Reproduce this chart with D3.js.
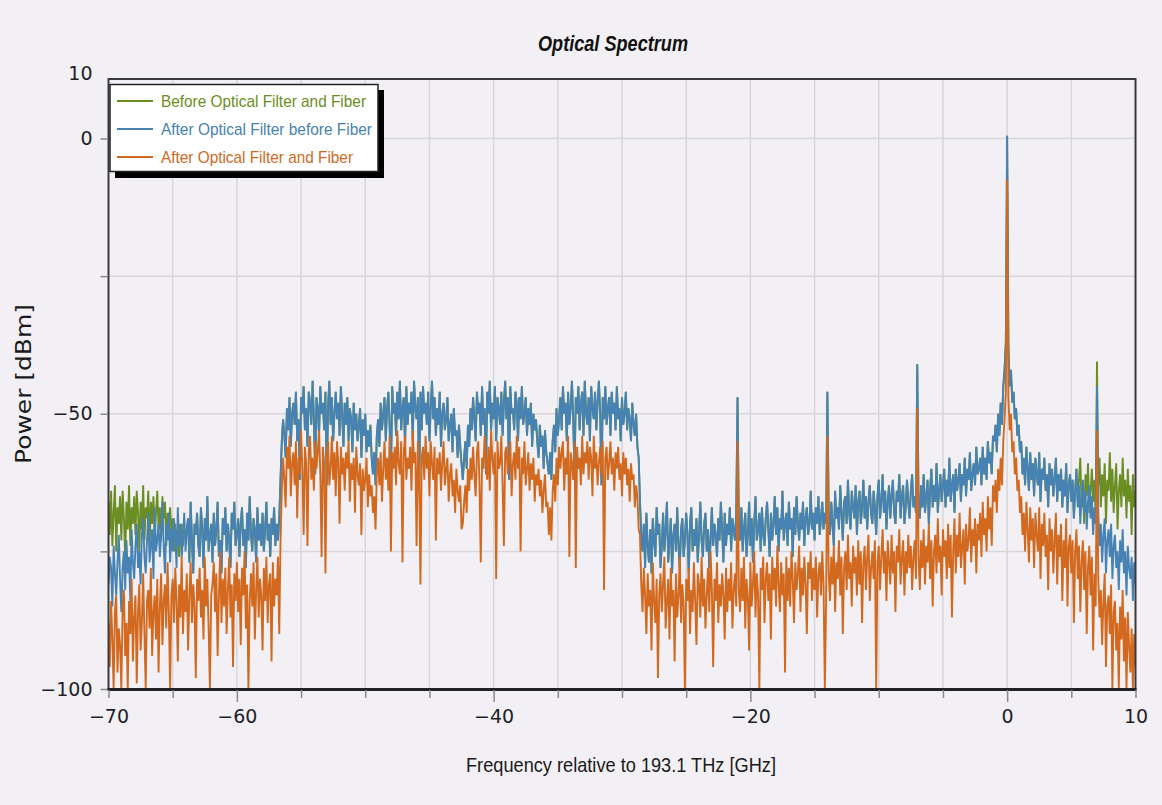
<!DOCTYPE html>
<html><head><meta charset="utf-8">
<script src="https://cdn.jsdelivr.net/npm/d3@7"></script>
<style>html,body{margin:0;padding:0;background:#f2f0f4;overflow:hidden}</style>
</head><body><svg id="c" width="1162" height="805"></svg>
<script>
// ---------------- DATA ----------------
const chartTitle = "Optical Spectrum";
const xTitle = "Frequency relative to 193.1 THz [GHz]";
const yTitle = "Power [dBm]";
const seriesNames = ["Before Optical Filter and Fiber", "After Optical Filter before Fiber", "After Optical Filter and Fiber"];
const freqStart = -70, freqStep = 0.1;           // GHz, sample spacing of the spectra
const xTickValues = [-70,-65,-60,-55,-50,-45,-40,-35,-30,-25,-20,-15,-10,-5,0,5,10];
const xTickLabels = [-70,-60,-40,-20,0,10];
const yTickValues = [-100,-75,-50,-25,0];
const yTickLabels = [-100,-50,0,10];

// After Optical Filter before Fiber (blue), dBm
const blueLeft = [
-81,-76,-78,-85,-74,-79,-83,-77,-72,-80,-86,-78,-75,-82,-73,-79,-76,-84,-71,-77,
-80,-74,-70,-78,-75,-81,-72,-69,-76,-79,-73,-68,-77,-74,-71,-80,-67,-75,-73,-70,
-76,-72,-66,-74,-79,-70,-73,-68,-77,-71,-75,-69,-72,-78,-67,-74,-70,-76,-73,-68,
-75,-71,-69,-77,-66,-73,-79,-70,-72,-68,-74,-76,-67,-71,-78,-69,-73,-65,-75,-72,
-70,-77,-68,-74,-71,-66,-76,-73,-79,-69,-72,-67,-75,-70,-73,-78,-68,-71,-66,-74,
-72,-69,-76,-70,-67,-74,-71,-78,-68,-73,-65,-72,-75,-69,-71,-77,-67,-73,-70,-74,
-68,-75,-71,-66,-73,-70,-76,-69,-72,-67,-74,-70,-73,-69];
const blueBand = [
-62,-55,-51,-54,-58,-49,-53,-47,-56,-50,-48,-52,-46,-55,-51,-62,-47,-50,-45,-53,
-49,-56,-46,-48,-52,-44,-51,-61,-47,-49,-54,-45,-50,-48,-53,-46,-63,-49,-44,-52,
-47,-55,-50,-46,-51,-48,-54,-45,-50,-56,-48,-52,-47,-55,-49,-51,-57,-48,-53,-50,
-55,-52,-49,-58,-51,-54,-50,-57,-53,-56,-52,-58,
-61,-57,-63,-54,-51,-56,-48,-53,-50,-47,-55,-49,-46,-52,-62,-45,-50,-48,-54,-46,
-51,-44,-53,-49,-47,-56,-45,-52,-48,-50,-46,-55,-44,-49,-51,-47,-64,-46,-53,-45,
-50,-48,-52,-46,-55,-49,-44,-51,-47,-54,-49,-52,-46,-56,-50,-48,-53,-51,-47,-55,
-52,-50,-57,-49,-54,-53,-58,-52,-56,-59,
-62,-58,-55,-60,-52,-56,-49,-53,-47,-51,-55,-46,-50,-48,-54,-45,-52,-49,-61,-46,
-50,-44,-53,-48,-51,-45,-55,-47,-49,-52,-46,-54,-48,-44,-51,-47,-62,-45,-50,-49,
-53,-46,-48,-55,-47,-51,-45,-52,-50,-47,-54,-49,-52,-48,-56,-50,-53,-51,-55,-58,
-52,-56,-54,-60,-53,-57,-59,-61,
-57,-62,-55,-52,-57,-49,-54,-51,-47,-53,-45,-50,-48,-55,-46,-52,-49,-44,-51,-61,
-47,-50,-45,-53,-48,-46,-54,-44,-50,-52,-47,-55,-45,-49,-51,-46,-53,-48,-44,-50,
-63,-47,-51,-45,-52,-49,-47,-54,-46,-50,-48,-53,-45,-51,-49,-55,-47,-52,-50,-46,
-53,-49,-51,-55,-48,-52,-54,-50,-56,-58];
const blueRight = [
-66,-72,-75,-70,-78,-68,-74,-77,-71,-79,-69,-73,-76,-67,-72,-70,-78,-74,-68,-75,
-71,-66,-77,-73,-69,-79,-72,-70,-75,-67,-74,-78,-71,-69,-76,-73,-68,-72,-79,-70,
-67,-75,-71,-74,-69,-77,-72,-66,-73,-76,-70,-68,-75,-71,-78,-73,-67,-74,-70,-72,
-76,-69,-73,-66,-71,-77,-68,-74,-70,-72,-67,-75,-69,-71,-73,-68,
-47,
-70,-73,-67,-75,-71,-68,-76,-72,-66,-74,-69,-77,-70,-65,-73,-71,-68,-75,-67,-72,
-74,-69,-66,-71,-76,-68,-73,-70,-65,-72,-67,-75,-69,-71,-64,-73,-70,-68,-74,-66,
-71,-69,-76,-67,-72,-65,-70,-73,-68,-71,-66,-74,-69,-67,-72,-70,-64,-71,-68,-73,
-67,-70,-65,-72,-69,-66,-71,-68,-70,
-46,
-68,-72,-66,-70,-74,-64,-69,-67,-71,-63,-68,-73,-66,-65,-70,-62,-68,-71,-64,-67,
-69,-63,-72,-66,-64,-70,-67,-62,-69,-65,-71,-66,-63,-68,-70,-64,-67,-72,-65,-62,
-69,-66,-61,-68,-64,-71,-66,-63,-69,-65,-62,-68,-70,-64,-66,-61,-69,-65,-63,-70,
-67,-62,-66,-69,-64,-61,-67,-65,-68,
-41,
-66,-69,-63,-67,-61,-68,-65,-62,-70,-64,-60,-67,-63,-66,-59,-68,-64,-61,-66,-63,
-60,-67,-62,-65,-58,-66,-63,-61,-68,-60,-64,-62,-59,-66,-61,-63,-58,-65,-60,-62,
-57,-64,-61,-59,-63,-56,-61,-60,-58,-63,-56,-61,-58,-62,-55,-59,-57,-61,-54,
-55,-52,-57,-50,-54,-48,-52,-45,-42,-37,0.5,-38,-45,-42,-48,-46,-51,-49,-54,-52,-57,
-55,-61,-58,-63,-56,-60,-64,-57,-62,-59,-65,-58,-61,-63,-57,-66,-60,-62,-58,-64,
-61,-67,-59,-63,-60,-65,-62,-58,-66,-61,-64,-60,-67,-62,-65,-59,-68,-63,-61,-66,
-62,-69,-64,-60,-67,-63,-70,-65,-62,-68,-64,-71,-66,-63,-69,-65,-72,-67,-70,
-45,
-68,-74,-70,-77,-72,-69,-79,-73,-71,-76,-70,-80,-74,-72,-78,-75,-82,-73,-77,-71,
-79,-75,-83,-74,-78,-80,-76,-84,-77,-81];

// After Optical Filter and Fiber (orange), dBm
const orangeLeft = [
-88,-96,-84,-91,-100,-86,-83,-97,-89,-92,-100,-85,-82,-94,-88,-100,-84,-90,-80,-95,
-87,-83,-99,-86,-81,-93,-88,-79,-90,-100,-84,-82,-89,-78,-94,-86,-83,-91,-80,-97,
-85,-79,-92,-84,-81,-89,-77,-86,-100,-83,-80,-88,-78,-84,-95,-81,-87,-76,-90,-82,
-86,-79,-93,-83,-77,-88,-81,-85,-98,-80,-84,-78,-87,-82,-91,-76,-85,-80,-89,-100,
-83,-81,-77,-86,-79,-94,-83,-75,-88,-80,-85,-78,-90,-82,-76,-87,-81,-96,-79,-84,
-77,-86,-80,-92,-78,-83,-75,-89,-81,-100,-84,-79,-85,-77,-91,-82,-76,-87,-80,-83,
-93,-78,-84,-76,-88,-81,-79,-95,-77,-85,-80,-83,-76,-90];
const orangeBand = [
-73,-64,-58,-62,-67,-56,-60,-54,-65,-59,-57,-63,-55,-69,-58,-61,-53,-60,-72,-56,
-59,-74,-57,-54,-62,-58,-64,-55,-60,-57,-53,-61,-76,-56,-59,-79,-58,-55,-63,-60,
-54,-62,-57,-65,-55,-59,-70,-56,-61,-58,-64,-57,-60,-55,-66,-59,-62,-58,-68,-56,
-61,-63,-59,-72,-60,-64,-62,-58,-67,-61,-65,-63,
-68,-65,-71,-61,-58,-63,-57,-66,-60,-55,-62,-58,-64,-54,-75,-57,-60,-56,-63,-53,
-59,-61,-55,-77,-57,-54,-62,-58,-60,-56,-64,-53,-59,-57,-74,-55,-61,-81,-58,-56,
-62,-54,-60,-57,-65,-55,-59,-62,-56,-73,-58,-61,-57,-64,-59,-55,-63,-60,-58,-66,
-61,-59,-65,-62,-68,-60,-64,-66,-63,-71,
-70,-66,-63,-68,-60,-64,-58,-62,-56,-61,-65,-57,-55,-63,-77,-58,-60,-54,-59,-62,
-56,-64,-53,-58,-61,-57,-80,-55,-60,-59,-54,-63,-74,-57,-56,-61,-58,-55,-65,-59,
-57,-62,-54,-60,-56,-75,-58,-61,-55,-63,-60,-57,-64,-59,-62,-58,-66,-61,-63,-60,
-65,-62,-68,-64,-61,-67,-66,-72,
-67,-73,-64,-61,-66,-58,-63,-56,-60,-57,-55,-64,-58,-61,-54,-76,-57,-59,-62,-55,
-78,-56,-60,-58,-63,-54,-61,-57,-59,-55,-62,-56,-58,-65,-54,-60,-57,-63,-59,-56,
-61,-55,-82,-58,-56,-62,-59,-55,-61,-58,-64,-57,-60,-56,-62,-59,-65,-57,-61,-58,
-63,-60,-66,-59,-62,-61,-67,-63,-65,-71];
const orangeRight = [
-72,-81,-86,-78,-83,-90,-79,-85,-82,-93,-77,-84,-88,-80,-98,-83,-79,-86,-81,-76,
-89,-84,-80,-91,-78,-85,-82,-95,-79,-87,-83,-76,-88,-81,-85,-100,-80,-84,-78,-90,
-82,-86,-77,-84,-92,-79,-81,-87,-76,-85,-80,-89,-83,-78,-86,-75,-82,-96,-80,-84,
-77,-88,-81,-85,-79,-83,-91,-78,-86,-80,-84,-77,-89,-82,-79,-85,
-55,
-82,-86,-78,-84,-76,-89,-80,-83,-93,-77,-85,-81,-75,-87,-79,-83,-100,-78,-82,-76,
-88,-80,-77,-84,-79,-91,-76,-82,-78,-85,-74,-81,-86,-77,-83,-79,-97,-76,-84,-78,
-85,-75,-80,-88,-77,-82,-79,-74,-86,-78,-83,-76,-81,-90,-77,-80,-75,-84,-78,-82,
-76,-87,-79,-77,-83,-75,-81,-100,-84,
-54,
-79,-84,-76,-81,-74,-86,-77,-80,-73,-83,-76,-90,-78,-75,-82,-72,-80,-77,-85,-74,
-79,-76,-83,-73,-81,-75,-88,-77,-74,-82,-76,-72,-84,-78,-75,-80,-73,-100,-77,-74,
-82,-76,-71,-79,-75,-84,-73,-77,-81,-72,-79,-75,-86,-74,-77,-71,-81,-76,-73,-83,
-75,-79,-72,-78,-74,-82,-76,-73,-80,
-49,
-76,-82,-73,-78,-71,-81,-74,-77,-70,-80,-73,-85,-75,-72,-79,-69,-77,-74,-83,-71,
-76,-73,-80,-70,-78,-72,-87,-75,-69,-79,-72,-76,-68,-78,-74,-71,-81,-70,-75,-73,
-67,-77,-71,-74,-69,-79,-70,-73,-68,-76,-66,-72,-69,-75,-65,-71,-67,-74,-63,
-66,-62,-68,-60,-64,-58,-63,-55,-51,-46,-7.5,-47,-53,-50,-57,-55,-61,-58,-64,-62,-68,
-65,-72,-68,-75,-66,-71,-77,-67,-73,-69,-78,-68,-72,-75,-67,-80,-70,-74,-68,-76,
-72,-82,-69,-75,-71,-79,-73,-68,-81,-72,-76,-70,-84,-73,-78,-69,-85,-74,-72,-79,
-73,-88,-75,-71,-80,-74,-86,-77,-73,-82,-75,-90,-78,-74,-83,-76,-93,-79,-85,
-53,
-80,-87,-82,-92,-84,-79,-96,-85,-83,-90,-81,-100,-86,-84,-93,-88,-100,-85,-91,-82,
-95,-87,-100,-86,-92,-97,-89,-100,-90,-96];

// Before Optical Filter and Fiber (green): differs from blue only outside the filter passband
const greenLeft = [
-66,-72,-64,-74,-68,-63,-75,-67,-70,-65,-73,-64,-69,-76,-66,-71,-63,-74,-67,-70,
-65,-72,-64,-68,-75,-66,-71,-63,-73,-67,-69,-64,-74,-66,-70,-65,-72,-68,-64,-71,
-67,-73,-65,-69,-66,-74,-68,-70,-67,-72,-69,-75,-70,-73,-71,-76,-72,-70,-74,-71,-72];
const greenRight = [
-60,-66,-62,-58,-67,-63,-70,-61,-65,-59,-68,-64,-60,-66,-62,-69,
-40.5,
-63,-58,-67,-61,-65,-59,-70,-62,-64,-57,-66,-60,-68,-63,-59,-71,-64,-61,-67,-58,
-65,-62,-69,-60,-66,-63,-72,-61,-67,-64];

// ---------------- BUILD ----------------
const blueVals = blueLeft.concat(blueBand, blueRight);
const orangeVals = orangeLeft.concat(orangeBand, orangeRight);
const greenVals = greenLeft.concat(blueVals.slice(greenLeft.length, blueVals.length - greenRight.length), greenRight);
const toPoints = vals => vals.map((v, i) => ({f: freqStart + i * freqStep, p: v}));
const series = [
  {name: seriesNames[0], pts: toPoints(greenVals), color: "#6b8e23"},
  {name: seriesNames[1], pts: toPoints(blueVals), color: "#4682b4"},
  {name: seriesNames[2], pts: toPoints(orangeVals), color: "#d2691e"}
];

const W = 1162, H = 805;
const m = {l: 108.5, r: 1135.5, t: 79, b: 689};
const x = d3.scaleLinear().domain([-70, 10]).range([m.l, m.r]);
const y = d3.scaleLinear().domain([-100, 0]).range([m.b, 138.5]);
const svg = d3.select("#c");
svg.append("rect").attr("width", W).attr("height", H).attr("fill", "#f2f0f4");

const fmt = d => d3.format("d")(d);

// grid
const g = svg.append("g");
g.selectAll(".vg").data(xTickValues.filter(v => v > -70 && v < 10)).join("line")
  .attr("x1", d => x(d)).attr("x2", d => x(d)).attr("y1", m.t).attr("y2", m.b)
  .attr("stroke", "#d8d6da").attr("stroke-width", 1.5);
g.selectAll(".hg").data(yTickValues.filter(v => v > -100)).join("line")
  .attr("x1", m.l).attr("x2", m.r).attr("y1", d => y(d)).attr("y2", d => y(d))
  .attr("stroke", "#d8d6da").attr("stroke-width", 1.5);

// series
svg.append("clipPath").attr("id", "clip").append("rect")
  .attr("x", m.l).attr("y", m.t).attr("width", m.r - m.l).attr("height", m.b - m.t);
const line = d3.line().x(d => x(d.f)).y(d => y(d.p));
svg.append("g").attr("clip-path", "url(#clip)").selectAll("path").data(series).join("path")
  .attr("d", d => line(d.pts)).attr("fill", "none").attr("stroke", d => d.color)
  .attr("stroke-width", 1.9).attr("stroke-linejoin", "bevel");

// frame
svg.append("rect").attr("x", m.l).attr("y", m.t).attr("width", m.r - m.l).attr("height", m.b - m.t)
  .attr("fill", "none").attr("stroke", "#3a3a3a").attr("stroke-width", 2);
svg.append("line").attr("x1", m.l - 1).attr("x2", m.r + 1).attr("y1", m.b + 0.5).attr("y2", m.b + 0.5)
  .attr("stroke", "#222").attr("stroke-width", 3);

// x axis
const xa = d3.axisBottom(x).tickValues(xTickValues).tickFormat(d => xTickLabels.includes(d) ? fmt(d) : "").tickSizeOuter(0);
const xg = svg.append("g").attr("transform", `translate(0,${m.b + 1})`).call(xa);
xg.select(".domain").remove();
xg.selectAll(".tick line").attr("stroke", "#8a8a8a").attr("stroke-width", 1.5)
  .attr("y2", d => (xTickLabels.includes(d) && d > -70 && d < 10) ? 12 : 8);
xg.selectAll(".tick text").attr("y", 20).attr("dy", "0.71em")
  .attr("font-family", "DejaVu Sans, sans-serif").attr("font-size", 19).attr("fill", "#1e1e28");

// y axis
const ya = d3.axisLeft(y).tickValues(yTickValues).tickFormat(d => yTickLabels.includes(d) ? fmt(d) : "").tickSizeOuter(0).tickSize(7).tickPadding(8);
const yg = svg.append("g").attr("transform", `translate(${m.l - 1},0)`).call(ya);
yg.select(".domain").remove();
yg.selectAll(".tick line").attr("stroke", "#8a8a8a").attr("stroke-width", 1.5);
yg.selectAll(".tick text").attr("font-family", "DejaVu Sans, sans-serif").attr("font-size", 19).attr("fill", "#1e1e28");
yg.append("text").attr("x", -15).attr("y", 73).attr("dy", "0.35em").attr("text-anchor", "end")
  .attr("font-family", "DejaVu Sans, sans-serif").attr("font-size", 19).attr("fill", "#1e1e28")
  .text(fmt(yTickLabels[yTickLabels.length - 1]));

// titles
svg.append("text").attr("x", 613).attr("y", 51).attr("text-anchor", "middle")
  .attr("font-family", "'Liberation Sans Narrow', 'Liberation Sans', Arial, sans-serif")
  .attr("font-size", 22).attr("font-weight", "bold").attr("font-style", "italic").attr("fill", "#111")
  .attr("textLength", 150).attr("lengthAdjust", "spacingAndGlyphs").text(chartTitle);
svg.append("text").attr("x", 621).attr("y", 772).attr("text-anchor", "middle")
  .attr("font-family", "'Liberation Sans Narrow', 'Liberation Sans', Arial, sans-serif")
  .attr("font-size", 21).attr("fill", "#1a1a1a")
  .attr("textLength", 310).attr("lengthAdjust", "spacingAndGlyphs").text(xTitle);
svg.append("text").attr("transform", "translate(31,384) rotate(-90)").attr("text-anchor", "middle")
  .attr("font-family", "DejaVu Sans, sans-serif").attr("font-size", 21).attr("fill", "#1a1a1a")
  .attr("textLength", 160).attr("lengthAdjust", "spacingAndGlyphs").text(yTitle);

// legend
const lg = svg.append("g");
lg.append("rect").attr("x", 115).attr("y", 90).attr("width", 269).attr("height", 88).attr("fill", "#000");
lg.append("rect").attr("x", 110).attr("y", 84.5).attr("width", 268).attr("height", 87).attr("fill", "#fff")
  .attr("stroke", "#222").attr("stroke-width", 1.5);
const legendW = [205, 211, 192];
series.forEach((s, i) => {
  const yy = 101 + i * 28;
  lg.append("line").attr("x1", 117).attr("x2", 153).attr("y1", yy).attr("y2", yy)
    .attr("stroke", s.color).attr("stroke-width", 2);
  lg.append("text").attr("x", 161).attr("y", yy).attr("dy", "0.35em")
    .attr("font-family", "'Liberation Sans Narrow', 'Liberation Sans', Arial, sans-serif")
    .attr("font-size", 17).attr("fill", s.color)
    .attr("textLength", legendW[i]).attr("lengthAdjust", "spacingAndGlyphs").text(s.name);
});
</script></body></html>
